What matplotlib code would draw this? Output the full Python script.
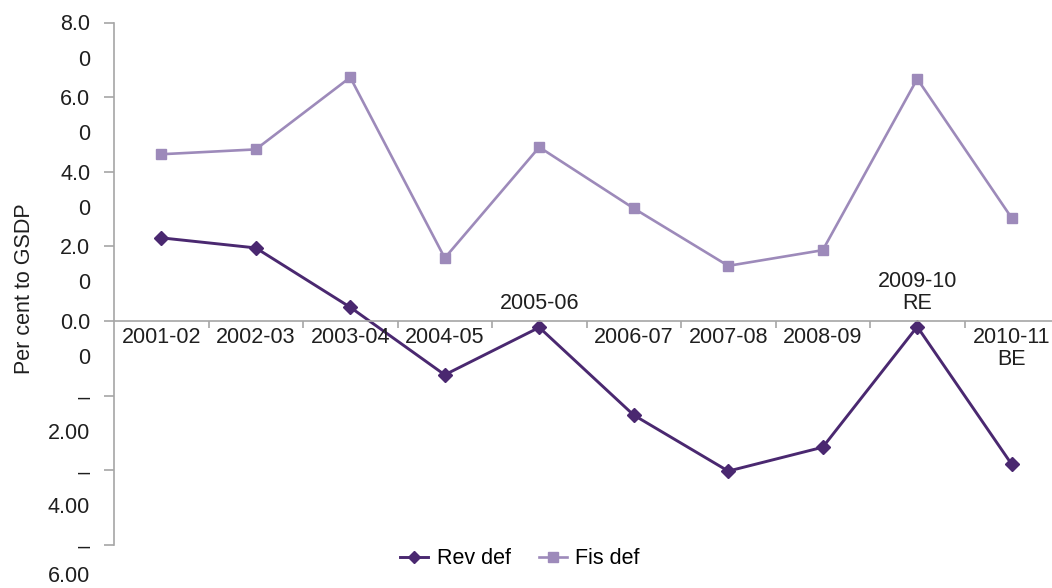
import matplotlib
matplotlib.use("Agg")
import matplotlib.pyplot as plt

plt.rcParams['font.family'] = ['Liberation Sans', 'DejaVu Sans']

# Dati (per cent to GSDP)
years = ['2001-02', '2002-03', '2003-04', '2004-05', '2005-06',
         '2006-07', '2007-08', '2008-09', '2009-10\nRE', '2010-11\nBE']
rev_def = [2.23, 1.96, 0.37, -1.44, -0.17, -2.52, -4.02, -3.38, -0.15, -3.84]
fis_def = [4.47, 4.60, 6.53, 1.69, 4.66, 3.02, 1.48, 1.90, 6.49, 2.76]
label_above = [False, False, False, False, True, False, False, False, True, False]

y_ticks = [8, 6, 4, 2, 0, -2, -4, -6]
y_top = ['8.0', '6.0', '4.0', '2.0', '0.0', '–', '–', '–']
y_bottom = ['0', '0', '0', '0', '0', '2.00', '4.00', '6.00']

rev_col = '#4a2870'
fis_col = '#9d8aba'
axis_col = '#a6a6a6'
txt_col = '#1f1f1f'
fs = 15.5

fig = plt.figure(figsize=(10.52, 5.88), dpi=100)
ax = fig.add_axes([114 / 1052, 43 / 588, 945 / 1052, 522.5 / 588])

x = list(range(len(years)))
ax.plot(x, rev_def, color=rev_col, lw=2.1, marker='D', ms=7, label='Rev def')
ax.plot(x, fis_def, color=fis_col, lw=1.9, marker='s', ms=7.8, label='Fis def')

ax.set_xlim(-0.5, len(years) - 0.5)
ax.set_ylim(-6, 8)

# Assi stile Excel
for s in ['top', 'right']:
    ax.spines[s].set_visible(False)
ax.spines['bottom'].set_position(('data', 0))
for s in ['left', 'bottom']:
    ax.spines[s].set_color(axis_col)
    ax.spines[s].set_linewidth(1.2)

ax.set_xticks([i + 0.5 for i in range(len(years) - 1)])
ax.set_xticklabels([])
ax.tick_params(axis='x', direction='out', length=5, width=1.2, color=axis_col)

ax.set_yticks(y_ticks)
ax.set_yticklabels(y_top, fontsize=fs, color=txt_col)
ax.tick_params(axis='y', direction='out', length=7, width=1.2, color=axis_col, pad=10)

# seconda riga delle etichette y (testo spezzato come nell'originale)
for t, lab in zip(y_ticks, y_bottom):
    dy = -37.5 if t > -6 else -31
    ax.annotate(lab, xy=(0, t), xycoords=('axes fraction', 'data'),
                xytext=(-24, dy), textcoords='offset pixels',
                ha='right', va='center', fontsize=fs, color=txt_col,
                annotation_clip=False)

# etichette delle categorie sull'asse zero
for i, (lab, up) in enumerate(zip(years, label_above)):
    if up:
        ax.annotate(lab, xy=(i, 0), xytext=(0, 7), textcoords='offset pixels',
                    ha='center', va='bottom', fontsize=fs, color=txt_col,
                    linespacing=1.05)
    else:
        ax.annotate(lab, xy=(i, 0), xytext=(0, -6), textcoords='offset pixels',
                    ha='center', va='top', fontsize=fs, color=txt_col,
                    linespacing=1.05, annotation_clip=False)

fig.text(25 / 1052, 1 - 289 / 588, 'Per cent to GSDP', rotation=90,
         ha='center', va='center', fontsize=fs, color=txt_col)

fig.legend(loc='center', bbox_to_anchor=(520 / 1052, 1 - 559 / 588), ncol=2,
           frameon=False, fontsize=fs, handlelength=1.3, handletextpad=0.4,
           columnspacing=1.3, markerscale=0.9)

fig.savefig('out.png', dpi=100)
